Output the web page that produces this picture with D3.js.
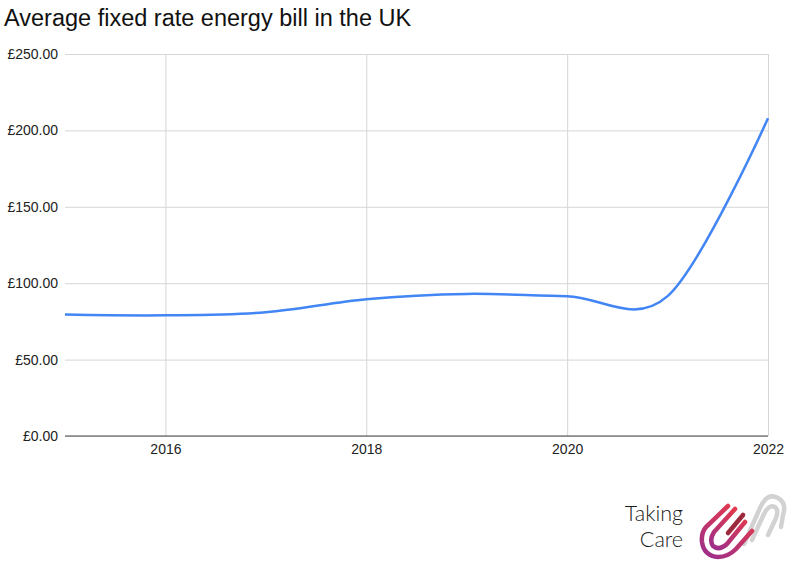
<!DOCTYPE html>
<html><head><meta charset="utf-8">
<script src="https://cdn.jsdelivr.net/npm/d3@7"></script>
<style>
html,body{margin:0;padding:0;background:#fff;}
svg{display:block;font-family:"Liberation Sans",Arial,sans-serif;}
</style></head>
<body><svg id="c" width="800" height="574"></svg>
<script>
const years = [2015, 2016, 2017, 2018, 2019, 2020, 2021, 2022];
const bills = [79.5, 79, 81, 89.5, 93, 91.5, 91.5, 208];
const yTicks = [0, 50, 100, 150, 200, 250];
const xTicks = [2016, 2018, 2020, 2022];
const title = "Average fixed rate energy bill in the UK";

const svg = d3.select("#c");
const x = d3.scaleLinear().domain([2015, 2022]).range([65, 768]);
const y = d3.scaleLinear().domain([0, 250]).range([436, 54]);

svg.append("text").attr("x", 4).attr("y", 26).attr("font-size", 23.5)
  .attr("fill", "#111").text(title);

// horizontal grid
const yAxis = d3.axisLeft(y).tickValues(yTicks).tickSize(-(768 - 65)).tickPadding(7)
  .tickFormat(d => "£" + d3.format(".2f")(d));
const gy = svg.append("g").attr("transform", "translate(65,0)").call(yAxis);
gy.select(".domain").remove();
gy.selectAll(".tick line").attr("stroke", "#d6d6d6").attr("stroke-width", 1);
gy.selectAll(".tick text").attr("font-size", 14).attr("fill", "#222");

// vertical grid + x labels
const xAxis = d3.axisBottom(x).tickValues(xTicks).tickSize(-(436 - 54)).tickPadding(8)
  .tickFormat(d3.format("d"));
const gx = svg.append("g").attr("transform", "translate(0,436)").call(xAxis);
gx.select(".domain").remove();
gx.selectAll(".tick line").attr("stroke", "#d6d6d6").attr("stroke-width", 1);
gx.selectAll(".tick text").attr("font-size", 14).attr("fill", "#222");

// baseline
svg.append("line").attr("x1", 65).attr("x2", 768).attr("y1", y(0)).attr("y2", y(0))
  .attr("stroke", "#444").attr("stroke-width", 1);

const line = d3.line().x((d, i) => x(years[i])).y(d => y(d))
  .curve(d3.curveCardinal.tension(0));
svg.append("path").datum(bills).attr("d", line).attr("fill", "none")
  .attr("stroke", "#4285F4").attr("stroke-width", 2.5).attr("stroke-linejoin", "round");

// Logo
const lg = svg.append("g");
lg.append("text").attr("x", 683).attr("y", 521).attr("text-anchor", "end")
  .attr("font-family", "Lato, 'Open Sans', sans-serif").attr("font-weight", 300)
  .attr("font-size", 21.5).attr("fill", "#1a1a1a").text("Taking");
lg.append("text").attr("x", 683).attr("y", 547).attr("text-anchor", "end")
  .attr("font-family", "Lato, 'Open Sans', sans-serif").attr("font-weight", 300)
  .attr("font-size", 21.5).attr("fill", "#1a1a1a").text("Care");

const defs = svg.append("defs");
const grad = defs.append("linearGradient").attr("id", "lgc")
  .attr("x1", "0").attr("y1", "1").attr("x2", "0.6").attr("y2", "0");
grad.append("stop").attr("offset", "0").attr("stop-color", "#9b2f8c");
grad.append("stop").attr("offset", "1").attr("stop-color", "#e0384f");

// gray arches
lg.append("path").attr("d", "M744,544 L760,508 Q767,492 778,498 Q787,503 783,515 L781,527")
  .attr("fill", "none").attr("stroke", "#d2d2d2").attr("stroke-width", 4.5).attr("stroke-linecap", "round");
lg.append("path").attr("d", "M752,540 L764,514 Q769,504 775,507 Q779,510 776,518 L768,535")
  .attr("fill", "none").attr("stroke", "#d2d2d2").attr("stroke-width", 4.5).attr("stroke-linecap", "round");

// colored fingers
lg.append("path").attr("d", "M728,506 L706,527 Q701,533 702,542 Q704,556 718,557 Q728,557 736,549 L752,531")
  .attr("fill", "none").attr("stroke", "url(#lgc)").attr("stroke-width", 4.5).attr("stroke-linecap", "round");
lg.append("path").attr("d", "M735,509 L714,532 Q709,540 713,546 Q719,551 727,544 L745,522")
  .attr("fill", "none").attr("stroke", "url(#lgc)").attr("stroke-width", 4.5).attr("stroke-linecap", "round");
lg.append("path").attr("d", "M743,515 L728,533")
  .attr("fill", "none").attr("stroke", "#9c2a3d").attr("stroke-width", 4.5).attr("stroke-linecap", "round");
</script></body></html>
